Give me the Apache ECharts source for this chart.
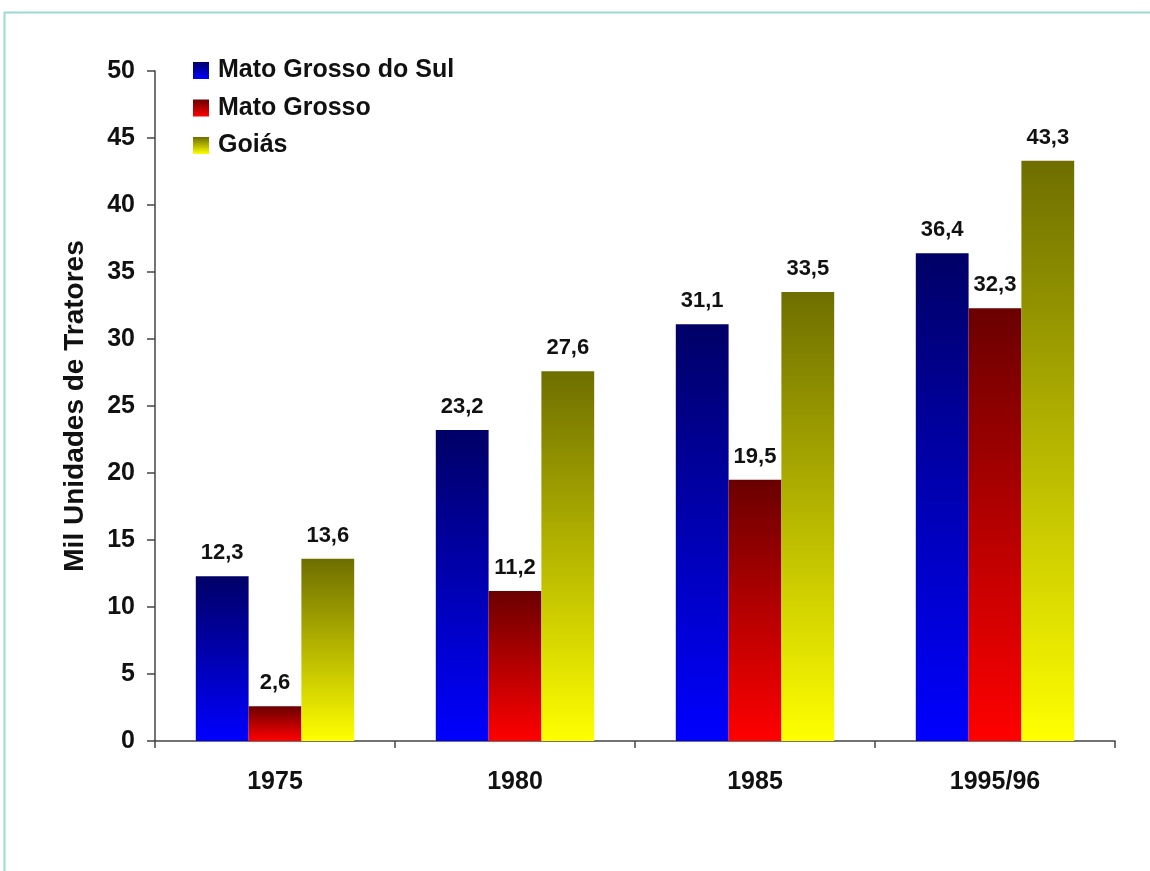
<!DOCTYPE html>
<html><head><meta charset="utf-8">
<script src="https://cdn.jsdelivr.net/npm/echarts@6/dist/echarts.min.js"></script>
<style>html,body{margin:0;padding:0;background:#fff}#c{width:1150px;height:871px}</style>
</head><body><div id="c"></div>
<script>
const categories = ['1975', '1980', '1985', '1995/96'];
const seriesNames = ['Mato Grosso do Sul', 'Mato Grosso', 'Goiás'];
const msValues = [12.3, 23.2, 31.1, 36.4];
const mtValues = [2.6, 11.2, 19.5, 32.3];
const goValues = [13.6, 27.6, 33.5, 43.3];
const yTicks = [0, 5, 10, 15, 20, 25, 30, 35, 40, 45, 50];

function grad(top, bottom) {
  return new echarts.graphic.LinearGradient(0, 0, 0, 1, [
    {offset: 0, color: top}, {offset: 1, color: bottom}
  ]);
}
const FONT = '"Liberation Sans", Arial, sans-serif';
const label = {
  show: true, position: 'top', distance: 12,
  fontFamily: FONT, fontWeight: 'bold', fontSize: 22, color: '#111',
  formatter: p => String(p.value).replace('.', ',')
};
function mk(name, data, top, bottom) {
  return {
    name, type: 'bar', data, barGap: '0%', barCategoryGap: '34%',
    itemStyle: {color: grad(top, bottom)}, label
  };
}
const chart = echarts.init(document.getElementById('c'));
chart.setOption({
  backgroundColor: '#fff',
  animation: false,
  graphic: [{
    type: 'rect', z: -1,
    shape: {x: 4.5, y: 12.5, width: 1300, height: 1000},
    style: {fill: 'none', stroke: '#9ad9d6', lineWidth: 2}
  }],
  legend: {
    orient: 'vertical', left: 188, top: 53,
    icon: 'rect', itemWidth: 16, itemHeight: 17, itemGap: 12.5,
    textStyle: {fontFamily: FONT, fontWeight: 'bold', fontSize: 25, color: '#111', padding: [0, 0, 0, 4]},
    data: seriesNames
  },
  grid: {left: 155, right: 35, top: 71, bottom: 130},
  xAxis: {
    type: 'category', data: categories,
    axisLine: {lineStyle: {color: '#444', width: 1.5}},
    axisTick: {show: true, length: 7, lineStyle: {color: '#444', width: 1.5}},
    axisLabel: {margin: 29, fontFamily: FONT, fontWeight: 'bold', fontSize: 25, color: '#111'}
  },
  yAxis: {
    type: 'value', min: yTicks[0], max: yTicks[yTicks.length - 1], interval: 5,
    name: 'Mil Unidades de Tratores', nameLocation: 'middle', nameGap: 66,
    nameTextStyle: {fontFamily: FONT, fontWeight: 'bold', fontSize: 28, color: '#111'},
    axisLine: {show: true, lineStyle: {color: '#444', width: 1.5}},
    axisTick: {show: true, length: 8, lineStyle: {color: '#444', width: 1.5}},
    splitLine: {show: false},
    axisLabel: {margin: 20, fontFamily: FONT, fontWeight: 'bold', fontSize: 25, color: '#111'}
  },
  series: [
    mk(seriesNames[0], msValues, '#000066', '#0000ff'),
    mk(seriesNames[1], mtValues, '#6a0000', '#ff0000'),
    mk(seriesNames[2], goValues, '#6e6e00', '#ffff00')
  ]
});
</script></body></html>
